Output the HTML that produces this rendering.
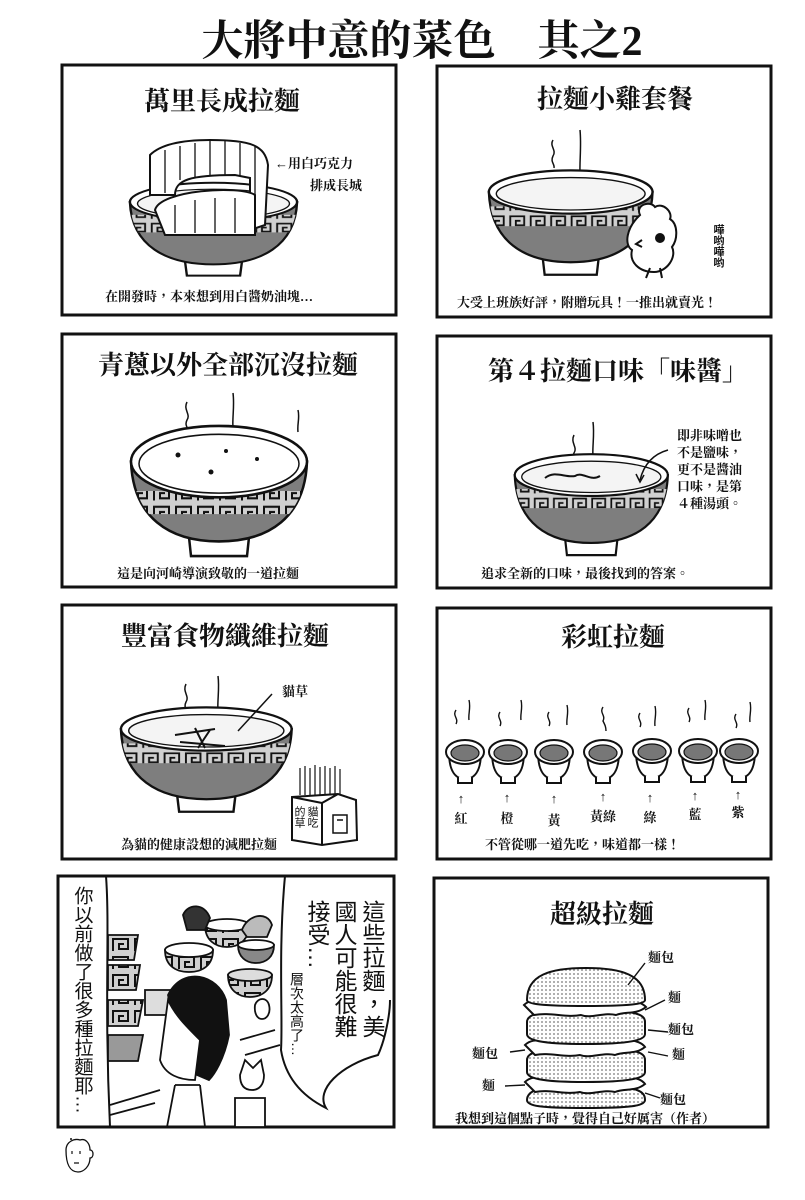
<!DOCTYPE html>
<html><head><meta charset="utf-8"><style>
html,body{margin:0;padding:0;background:#fff;}
svg{display:block;}
.t{font-family:"Liberation Serif","Noto Serif CJK TC","Noto Serif CJK SC",serif;font-weight:bold;fill:#111;}
.c{font-family:"Liberation Serif","Noto Serif CJK TC","Noto Serif CJK SC",serif;font-weight:bold;fill:#111;font-size:13px;}
.v{font-family:"Liberation Sans","Noto Sans CJK TC",sans-serif;fill:#111;writing-mode:vertical-rl;}
</style></head><body>
<svg width="805" height="1200" viewBox="0 0 805 1200" xmlns="http://www.w3.org/2000/svg">
<defs>
<pattern id="mz" width="22" height="18" patternUnits="userSpaceOnUse">
<rect width="22" height="18" fill="#d0d0d0"/>
<path d="M3,15 V3 H18 V13 H9 V8 H14" fill="none" stroke="#111" stroke-width="2"/>
</pattern>
<pattern id="dot" width="4" height="4" patternUnits="userSpaceOnUse">
<rect width="4" height="4" fill="#fff"/><circle cx="2" cy="2" r="0.9" fill="#777"/>
</pattern>
<clipPath id="bc"><path d="M2,30 C4,85 40,108 90,108 C140,108 176,85 178,30 Z"/></clipPath>
<g id="bowl">
<path d="M60,104 L62,122 L118,122 L120,104 Z" fill="#fff" stroke="#111" stroke-width="2.5"/>
<path d="M2,30 C4,85 40,108 90,108 C140,108 176,85 178,30 Z" fill="#7e7e7e" stroke="#111" stroke-width="2.5"/>
<rect x="0" y="46" width="180" height="22" fill="url(#mz)" clip-path="url(#bc)"/>
<ellipse cx="90" cy="30" rx="88" ry="24" fill="#fff" stroke="#111" stroke-width="2.5"/>
<ellipse cx="90" cy="32" rx="80" ry="18" fill="#f4f4f4" stroke="#111" stroke-width="1.5"/>
</g>
<g id="sb">
<path d="M-16,0 C-16,20 -9,27 0,27 C9,27 16,20 16,0 Z" fill="#fff" stroke="#111" stroke-width="2"/>
<path d="M-7,25 L-7,31 L7,31 L7,25" fill="#fff" stroke="#111" stroke-width="2"/>
<ellipse cx="0" cy="0" rx="19" ry="12" fill="#fff" stroke="#111" stroke-width="2"/>
<ellipse cx="0" cy="1" rx="14" ry="8" fill="#777" stroke="#111" stroke-width="1.2"/>
</g>
</defs>

<text class="t" x="422" y="55" font-size="42" text-anchor="middle">大將中意的菜色　其之2</text>

<g fill="none" stroke="#111" stroke-width="3">
<rect x="62" y="65" width="334" height="250"/>
<rect x="437" y="66" width="334" height="251"/>
<rect x="62" y="334" width="334" height="253"/>
<rect x="437" y="336" width="334" height="252"/>
<rect x="62" y="605" width="334" height="254"/>
<rect x="437" y="608" width="334" height="251"/>
<rect x="58" y="876" width="336" height="251"/>
<rect x="434" y="878" width="334" height="249"/>
</g>

<!-- P1 -->
<text class="t" x="222" y="110" font-size="26" text-anchor="middle">萬里長成拉麵</text>
<use href="#bowl" transform="translate(128,178) scale(0.95,0.8)"/>
<g fill="#fff" stroke="#111" stroke-width="2">
<path d="M150,155 L150,195 L175,195 C175,180 190,175 235,175 L250,178 L250,230 L265,225 L268,165 C265,145 250,140 210,140 C180,140 160,145 150,155 Z"/>
<path d="M155,210 C160,190 240,185 255,195 L255,235 L165,235 Z"/>
</g>
<g stroke="#111" stroke-width="1.3">
<line x1="165" y1="150" x2="165" y2="193"/><line x1="180" y1="146" x2="180" y2="180"/><line x1="195" y1="143" x2="195" y2="177"/><line x1="210" y1="141" x2="210" y2="175"/><line x1="225" y1="141" x2="225" y2="175"/><line x1="240" y1="143" x2="240" y2="176"/><line x1="255" y1="146" x2="255" y2="225"/>
<line x1="175" y1="205" x2="175" y2="233"/><line x1="195" y1="200" x2="195" y2="233"/><line x1="215" y1="198" x2="215" y2="233"/><line x1="235" y1="198" x2="235" y2="233"/>
</g>
<text class="c" x="275" y="168">←用白巧克力</text>
<text class="c" x="310" y="190">排成長城</text>
<text class="c" x="105" y="301">在開發時，本來想到用白醬奶油塊…</text>

<!-- P2 -->
<text class="t" x="615" y="108" font-size="26" text-anchor="middle">拉麵小雞套餐</text>
<path d="M553,140 c-4,6 4,10 0,16 c-3,6 2,8 1,12 M580,130 c2,20 -2,40 1,58" fill="none" stroke="#111" stroke-width="1.5"/>
<use href="#bowl" transform="translate(487,165) scale(0.93,0.9)"/>
<g stroke="#111" stroke-width="2" fill="#fff">
<path d="M640,215 c-5,-10 10,-15 15,-8 c8,-5 18,5 15,12 c8,5 8,20 2,28 c5,10 -5,25 -18,25 c-15,0 -25,-10 -22,-22 c-8,-5 -6,-22 8,-35 Z"/>
<circle cx="660" cy="238" r="4" fill="#111"/>
<path d="M642,240 l-6,4 l6,3" fill="#fff"/>
<path d="M650,268 l-4,10 M660,268 l2,10"/>
</g>
<text class="v" x="718" y="224" font-size="11" font-weight="bold">嘩哟嘩哟</text>
<text class="c" x="457" y="307">大受上班族好評，附贈玩具！一推出就賣光！</text>

<!-- P3 -->
<text class="t" x="228" y="374" font-size="26" text-anchor="middle">青蔥以外全部沉沒拉麵</text>
<path d="M187,402 c-4,8 4,12 0,18 c-3,6 2,8 1,12 M233,393 c2,15 -2,30 1,40 M298,410 c2,8 -1,14 0,22" fill="none" stroke="#111" stroke-width="1.5"/>
<g transform="translate(129,428) scale(1,1.05)">
<path d="M60,104 L62,122 L118,122 L120,104 Z" fill="#fff" stroke="#111" stroke-width="2.5"/>
<path d="M2,32 C4,85 40,108 90,108 C140,108 176,85 178,32 Z" fill="#7e7e7e" stroke="#111" stroke-width="2.5"/>
<rect x="0" y="60" width="180" height="22" fill="url(#mz)" clip-path="url(#bc)"/>
<ellipse cx="90" cy="32" rx="88" ry="34" fill="#fff" stroke="#111" stroke-width="2.5"/>
<ellipse cx="90" cy="34" rx="80" ry="28" fill="#fff" stroke="#111" stroke-width="1.5"/>
</g>
<g fill="#111"><circle cx="178" cy="455" r="2.5"/><circle cx="226" cy="451" r="2"/><circle cx="257" cy="459" r="2"/><circle cx="211" cy="472" r="2.5"/></g>
<text class="c" x="117" y="578">這是向河崎導演致敬的一道拉麵</text>

<!-- P4 -->
<text class="t" x="618" y="380" font-size="26" text-anchor="middle">第４拉麵口味「味醬」</text>
<path d="M574,435 c-4,8 4,12 0,18 c-3,6 2,8 1,12 M593,422 c2,15 -2,30 1,40" fill="none" stroke="#111" stroke-width="1.5"/>
<use href="#bowl" transform="translate(513,449) scale(0.87,0.87)"/>
<path d="M545,478 c10,-8 20,0 30,-2 c8,-5 15,6 25,0" fill="none" stroke="#111" stroke-width="2"/>
<path d="M668,450 C650,455 643,468 640,480" fill="none" stroke="#111" stroke-width="1.5"/>
<path d="M636,474 l4,8 l4,-7" fill="none" stroke="#111" stroke-width="1.5"/>
<g class="c" font-size="12"><text x="677" y="440">即非味噌也</text><text x="677" y="457">不是鹽味，</text><text x="677" y="474">更不是醬油</text><text x="677" y="491">口味，是第</text><text x="677" y="508">４種湯頭。</text></g>
<text class="c" x="481" y="578">追求全新的口味，最後找到的答案。</text>

<!-- P5 -->
<text class="t" x="225" y="645" font-size="26" text-anchor="middle">豐富食物纖維拉麵</text>
<path d="M186,684 c-4,8 4,12 0,18 c-3,6 2,8 1,12 M218,676 c2,15 -2,30 1,40" fill="none" stroke="#111" stroke-width="1.5"/>
<use href="#bowl" transform="translate(119,702) scale(0.97,0.9)"/>
<g stroke="#111" stroke-width="2"><path d="M175,735 l40,-6 M180,742 l45,4 M195,728 l10,20 M210,730 l-12,18"/></g>
<path d="M272,694 L238,731" stroke="#111" stroke-width="1.5"/>
<text class="c" x="282" y="696" font-size="12">貓草</text>
<g stroke="#111" stroke-width="1.2"><line x1="300" y1="768" x2="300" y2="795"/><line x1="305" y1="766" x2="305" y2="795"/><line x1="310" y1="768" x2="310" y2="795"/><line x1="315" y1="765" x2="315" y2="795"/><line x1="320" y1="767" x2="320" y2="795"/><line x1="325" y1="766" x2="325" y2="795"/><line x1="330" y1="768" x2="330" y2="795"/><line x1="335" y1="766" x2="335" y2="795"/><line x1="340" y1="769" x2="340" y2="795"/></g>
<path d="M292,797 L338,794 L356,800 L357,840 L322,845 L292,840 Z M338,794 L322,803 L322,845 M292,797 L322,803" fill="#fff" stroke="#111" stroke-width="2"/>
<text class="v" x="312" y="806" font-size="11">貓吃</text><text class="v" x="299" y="806" font-size="11">的草</text>
<path d="M333,815 h14 v18 h-14 z M337,820 h6" fill="none" stroke="#111" stroke-width="1.5"/>
<text class="c" x="121" y="849">為貓的健康設想的減肥拉麵</text>

<!-- P6 -->
<text class="t" x="613" y="646" font-size="26" text-anchor="middle">彩虹拉麵</text>
<g fill="none" stroke="#111" stroke-width="1.4">
<path d="M456,710 c-4,6 3,8 0,14 M469,700 c2,8 -1,14 0,20 M500,712 c-4,6 3,8 0,14 M521,700 c2,8 -1,14 0,20 M549,712 c-4,6 3,8 0,14 M567,705 c2,8 -1,14 0,20 M603,707 c-4,6 3,8 0,14 c2,4 3,6 3,10 M640,713 c-4,6 3,8 0,14 M655,706 c2,8 -1,14 0,20 M689,708 c-4,6 3,8 0,14 M705,700 c2,8 -1,14 0,20 M736,714 c-4,6 3,8 0,14 M750,702 c2,8 -1,14 0,20"/>
</g>
<use href="#sb" transform="translate(465,752)"/><use href="#sb" transform="translate(508,752)"/><use href="#sb" transform="translate(554,752)"/><use href="#sb" transform="translate(603,752)"/><use href="#sb" transform="translate(652,751)"/><use href="#sb" transform="translate(698,751)"/><use href="#sb" transform="translate(739,751)"/>
<g class="c" font-size="14" text-anchor="middle">
<text x="461" y="803">↑</text><text x="507" y="802">↑</text><text x="554" y="803">↑</text><text x="603" y="801">↑</text><text x="650" y="802">↑</text><text x="695" y="800">↑</text><text x="738" y="799">↑</text>
<text x="461" y="823">紅</text><text x="507" y="823">橙</text><text x="554" y="825">黃</text><text x="603" y="821">黃綠</text><text x="650" y="822">綠</text><text x="695" y="819">藍</text><text x="738" y="817">紫</text>
</g>
<text class="c" x="485" y="849">不管從哪一道先吃，味道都一樣！</text>

<!-- P7 -->
<path d="M106,876 C110,930 104,1000 110,1127" fill="none" stroke="#111" stroke-width="2"/>
<path d="M285,876 C278,950 283,1020 281,1050 C285,1075 300,1095 326,1108 C315,1090 340,1065 378,1055 C385,1040 390,1015 390,1000" fill="none" stroke="#111" stroke-width="2"/>
<text class="v" x="82" y="886" font-size="19">你以前做了很多種拉麵耶…</text>
<text class="v" x="372" y="900" font-size="23">這些拉麵，美</text>
<text class="v" x="344" y="900" font-size="23">國人可能很難</text>
<text class="v" x="317" y="900" font-size="23">接受…</text>
<text class="v" x="297" y="972" font-size="14">層次太高了…</text>
<g stroke="#111" stroke-width="1.8">
<path d="M108,935 h30 l-4,25 h-26 Z" fill="url(#mz)"/>
<path d="M165,950 c0,15 10,22 24,22 c14,0 24,-7 24,-22 Z" fill="url(#mz)"/>
<ellipse cx="189" cy="950" rx="24" ry="7" fill="#fff"/>
<path d="M205,925 c0,15 10,22 22,22 c12,0 22,-7 22,-22 Z" fill="url(#mz)"/>
<ellipse cx="227" cy="925" rx="22" ry="6" fill="#fff"/>
<path d="M228,975 c0,15 10,22 22,22 c12,0 22,-7 22,-22 Z" fill="url(#mz)"/>
<ellipse cx="250" cy="975" rx="22" ry="6" fill="#ddd"/>
<path d="M238,945 c0,12 8,18 18,18 c10,0 18,-6 18,-18 Z" fill="#888"/>
<ellipse cx="256" cy="945" rx="18" ry="5" fill="#fff"/>
<path d="M108,965 h32 l-4,25 h-28 Z" fill="url(#mz)"/>
<path d="M108,1000 h35 l-5,26 h-30 Z" fill="url(#mz)"/>
<path d="M108,1035 h35 l-5,26 h-30 Z" fill="#999"/>
<path d="M145,990 h45 v25 h-45 Z" fill="#ddd"/>
<path d="M183,915 c5,-12 22,-12 27,3 l-5,12 h-18 Z" fill="#333"/>
<path d="M242,930 c5,-15 25,-20 30,-5 l-5,12 h-20 Z" fill="#bbb"/>
<path d="M168,995 c15,-30 50,-20 58,5 l3,35 c-5,25 -15,40 -20,45 l-12,-5 c-10,-25 -20,-40 -29,-80 Z" fill="#111"/>
<path d="M168,1000 l-8,60 c5,15 20,20 35,20 l5,-40 c-15,-15 -25,-25 -32,-40 Z" fill="#fff"/>
<path d="M175,1085 l-8,42 M200,1085 l5,42 M175,1085 h25" fill="none"/>
<path d="M240,1075 l5,-15 l8,8 l8,-8 l3,15 c0,10 -5,15 -12,15 c-8,0 -12,-5 -12,-15 Z" fill="#fff"/>
<path d="M235,1098 h30 v29 h-30 Z" fill="#fff"/>
<path d="M255,1005 c3,-8 12,-8 14,0 c2,8 -2,14 -7,14 c-5,0 -8,-6 -7,-14 Z" fill="#fff"/>
<path d="M110,1105 l50,-15 M110,1115 l45,-12 M240,1040 l35,-10 M245,1055 l35,-10" fill="none"/>
</g>

<!-- P8 -->
<text class="t" x="602" y="923" font-size="26" text-anchor="middle">超級拉麵</text>
<g stroke="#111" stroke-width="2">
<path d="M527,1100 C527,1092 535,1085 585,1085 C640,1085 645,1092 645,1100 C645,1106 630,1108 585,1108 C540,1108 527,1106 527,1100 Z" fill="url(#dot)"/>
<path d="M525,1082 c8,-8 20,-3 30,-6 c10,3 20,-4 30,0 c12,-3 25,2 35,-2 c10,4 20,3 25,10 c-10,8 -20,4 -30,8 c-12,-3 -25,4 -35,0 c-15,3 -30,-3 -45,0 Z" fill="#fff"/>
<path d="M527,1060 C527,1052 540,1048 585,1048 C635,1048 645,1052 645,1060 L645,1072 C645,1078 630,1082 585,1082 C540,1082 527,1078 527,1072 Z" fill="url(#dot)"/>
<path d="M525,1045 c8,-8 20,-3 30,-6 c10,3 20,-4 30,0 c12,-3 25,2 35,-2 c10,4 20,3 25,10 c-10,8 -20,4 -30,8 c-12,-3 -25,4 -35,0 c-15,3 -30,-3 -45,0 Z" fill="#fff"/>
<path d="M527,1022 C527,1014 540,1010 585,1010 C635,1010 645,1014 645,1022 L645,1034 C645,1040 630,1044 585,1044 C540,1044 527,1040 527,1034 Z" fill="url(#dot)"/>
<path d="M524,1005 c8,-8 20,-3 30,-6 c10,3 20,-4 30,0 c12,-3 25,2 35,-2 c10,4 20,3 27,10 c-10,8 -20,4 -30,8 c-12,-3 -25,4 -35,0 c-15,3 -30,-3 -47,0 Z" fill="#fff"/>
<path d="M527,1000 C527,975 550,968 586,968 C622,968 645,975 645,1000 C645,1004 630,1006 586,1006 C542,1006 527,1004 527,1000 Z" fill="url(#dot)"/>
<g fill="none" stroke-width="1.4">
<path d="M628,985 L645,963 M645,1010 L665,1000 M648,1030 L668,1032 M648,1052 L668,1056 M525,1050 L510,1052 M525,1085 L505,1086 M645,1093 L660,1098"/>
</g>
</g>
<g class="c" font-size="13">
<text x="648" y="962">麵包</text><text x="668" y="1002">麵</text><text x="668" y="1034">麵包</text><text x="672" y="1059">麵</text><text x="472" y="1058">麵包</text><text x="482" y="1090">麵</text><text x="660" y="1104">麵包</text>
</g>
<text class="c" x="455" y="1123">我想到這個點子時，覺得自己好厲害（作者）</text>

<!-- footer face -->
<path d="M66,1150 c0,-8 8,-12 14,-10 c6,-2 10,4 10,10 c4,0 4,8 0,8 c0,8 -6,14 -12,14 c-8,0 -12,-8 -12,-22 Z" fill="#fff" stroke="#111" stroke-width="1.3"/>
<path d="M72,1151 v3 M80,1151 v3 M74,1163 h5" stroke="#111" stroke-width="1.2"/>
<circle cx="71" cy="1139" r="1" fill="#111"/>
</svg>
</body></html>
